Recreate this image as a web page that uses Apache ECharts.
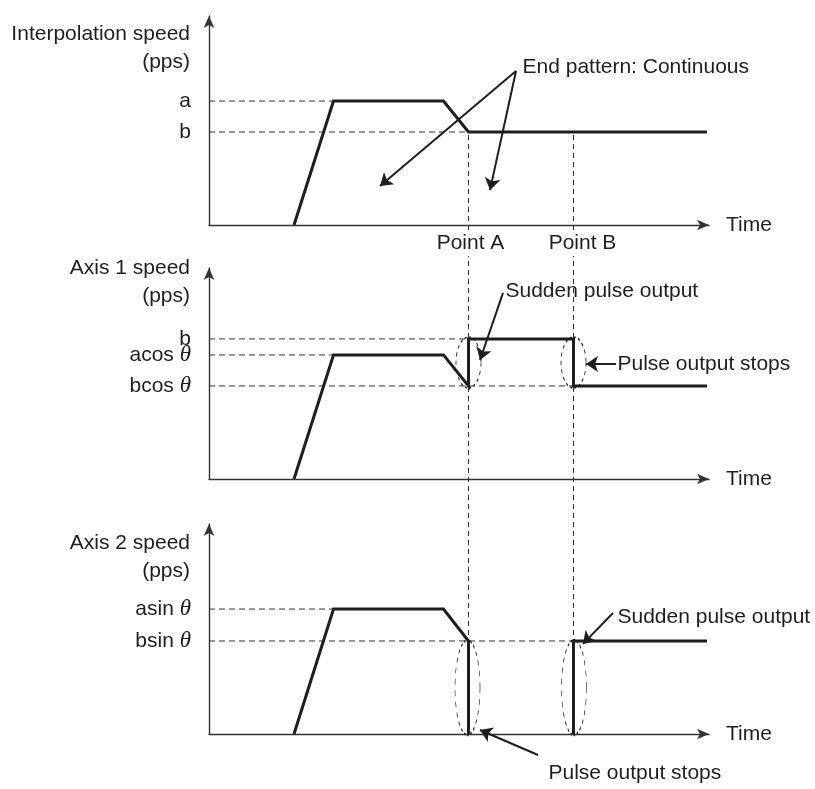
<!DOCTYPE html>
<html>
<head>
<meta charset="utf-8">
<script src="https://cdn.jsdelivr.net/npm/echarts@6/dist/echarts.min.js"></script>
<style>html,body{margin:0;padding:0;background:#fff;}#c{width:815px;height:789px;}</style>
</head>
<body>
<div id="c"></div>
<script>
// ---------- data (time axis 0..100, speed axis 0..100, schematic units) ----------
const interpTime  = [17, 24.9, 46.9, 51.9, 99.6];
const interpSpeed = [0, 59.3, 59.3, 44.5, 44.5];

const axis1Time  = [17, 24.9, 46.9, 51.9, 51.9, 72.9, 72.9, 99.6];
const axis1Speed = [0, 58.8, 58.8, 44.1, 66.4, 66.4, 44.1, 44.1];

const axis2Time  = [17, 24.9, 46.9, 51.9, 51.9, null, 72.9, 72.9, 99.6];
const axis2Speed = [0, 59.5, 59.5, 44.3, 0, null, 0, 44.3, 44.3];

const interpLevelNames = ['a', 'b'];
const interpLevels     = [59.3, 44.5];
const interpGuideEnds  = [24.9, 51.9];

const axis1LevelNames = ['b', 'acos θ', 'bcos θ'];
const axis1Levels     = [66.4, 58.8, 44.1];
const axis1GuideEnds  = [51.9, 24.9, 72.9];

const axis2LevelNames = ['asin θ', 'bsin θ'];
const axis2Levels     = [59.5, 44.3];
const axis2GuideEnds  = [24.9, 72.9];

const pointNames = ['Point A', 'Point B'];
const pointTimes = [51.9, 72.9];

const panelTitles = ['Interpolation speed\n(pps)', 'Axis 1 speed\n(pps)', 'Axis 2 speed\n(pps)'];

// annotations
const anno1Texts = ['End pattern: Continuous'];
const anno1At    = [[62.6, 75.6]];
const anno1Arrows = [[[61.4, 73.7], [34.2, 18.7]], [[61.4, 73.7], [56.2, 16.7]]];

const anno2Texts = ['Sudden pulse output', 'Pulse output stops'];
const anno2At    = [[59.2, 89.1], [81.6, 54.5]];
const anno2Arrows = [[[58.8, 88.2], [54.2, 56.4]], [[81.4, 54.5], [75.4, 54.5]]];
const anno2Ovals  = [[51.9, 55.2], [72.9, 55.2]];

const anno3Texts = ['Sudden pulse output', 'Pulse output stops'];
const anno3At    = [[81.6, 55.7], [67.8, -18.6]];
const anno3Arrows = [[[80.8, 57.6], [74.8, 42.9]], [[65.8, -10], [54.2, 1.9]]];
const anno3Ovals  = [[51.7, 22.1], [73.0, 22.1]];

// ---------- helpers ----------
const FONT = "'Liberation Sans', Arial, Helvetica, sans-serif";
const FS = 21;
const INK = '#1e1e1e';
const AX = '#333';

function pairs(xs, ys) {
  return xs.map((x, i) => (x === null || ys[i] === null) ? ['-', '-'] : [x, ys[i]]);
}
function levelFormatter(names, values) {
  return function (v) {
    let i = values.findIndex(x => Math.abs(x - v) < 1e-6);
    const s = i < 0 ? '' : names[i];
    const k = s.indexOf('θ');
    return k < 0 ? '{n|' + s + '}' : '{n|' + s.slice(0, k) + '}{t|θ}';
  };
}
const levelRich = {
  n: { fontSize: FS, fontFamily: FONT, color: INK, lineHeight: 14 },
  t: { fontSize: 23, fontFamily: "'Liberation Serif', 'DejaVu Serif', serif", fontStyle: 'italic', color: INK, lineHeight: 14 }
};
const evens = a => a.filter((_, i) => i % 2 === 0);
const odds  = a => a.filter((_, i) => i % 2 === 1);

function xAx(i, extra) {
  return Object.assign({
    type: 'value', gridIndex: i, min: 0, max: 100,
    axisLine: { show: true, onZero: false, symbol: ['none', 'arrow'], symbolSize: [8, 12],
                lineStyle: { color: AX, width: 1.4 } },
    axisTick: { show: false }, axisLabel: { show: false }, splitLine: { show: false },
    name: 'Time', nameLocation: 'end', nameGap: 17,
    nameTextStyle: { fontSize: FS, color: INK, fontFamily: FONT }
  }, extra || {});
}
function yAx(i, title, gap, names, values) {
  return {
    type: 'value', gridIndex: i, min: 0, max: 100,
    axisLine: { show: true, onZero: false, symbol: ['none', 'arrow'], symbolSize: [8, 12],
                lineStyle: { color: AX, width: 1.4 } },
    axisTick: { show: false }, splitLine: { show: false },
    axisLabel: { show: true, customValues: values, formatter: levelFormatter(names, values),
                 margin: 18, hideOverlap: false, showMinLabel: true, showMaxLabel: true, rich: levelRich },
    name: title, nameLocation: 'end', nameGap: gap,
    nameTextStyle: { fontSize: FS, color: INK, fontFamily: FONT, align: 'right',
                     verticalAlign: 'top', lineHeight: 28, padding: [0, 19, 0, 0] }
  };
}
// companion axis carrying the alternate level labels (so adjacent labels never collide)
function yAxLabels(i, names, values) {
  return {
    type: 'value', gridIndex: i, min: 0, max: 100, position: 'left', offset: 0,
    axisLine: { show: false }, axisTick: { show: false }, splitLine: { show: false },
    axisLabel: { show: true, customValues: values, formatter: levelFormatter(names, values),
                 margin: 18, hideOverlap: false, showMinLabel: true, showMaxLabel: true, rich: levelRich }
  };
}
function curve(i, xs, ys) {
  return { type: 'line', xAxisIndex: i, yAxisIndex: i, data: pairs(xs, ys), symbol: 'none',
           z: 5, connectNulls: false, lineStyle: { color: INK, width: 3, join: 'miter' } };
}
function guides(i, levels, ends) {
  const out = [];
  levels.forEach((lv, k) => {
    out.push({ type: 'line', xAxisIndex: i, yAxisIndex: i, data: [[0, lv], [ends[k], lv]],
               symbol: 'none', z: 2,
               lineStyle: { color: AX, width: 1, type: [6, 4] } });
  });
  return out;
}
function texts(i, names, at) {
  return { type: 'scatter', xAxisIndex: i, yAxisIndex: i, clip: false, z: 6,
           symbolSize: 1, itemStyle: { color: 'rgba(0,0,0,0)', opacity: 1 },
           data: names.map((n, k) => ({ name: n, value: at[k] })),
           label: { show: true, position: 'right', distance: 0, formatter: '{b}', opacity: 1,
                    fontSize: FS, color: INK, fontFamily: FONT } };
}
function arrows(i, list) {
  return { type: 'lines', coordinateSystem: 'cartesian2d', xAxisIndex: i, yAxisIndex: i,
           clip: false, z: 6, symbol: ['none', 'arrow'], symbolSize: [8, 12],
           lineStyle: { color: INK, width: 2, opacity: 1 },
           data: list.map(c => ({ coords: c })) };
}
function ovals(i, centers, size) {
  return { type: 'scatter', xAxisIndex: i, yAxisIndex: i, clip: false, z: 3,
           symbol: 'circle', symbolSize: size,
           itemStyle: { color: 'rgba(0,0,0,0)', opacity: 1, borderColor: '#222', borderWidth: 1.2, borderType: [3, 3] },
           data: centers };
}

const series = [].concat(
  // vertical guides for Point A / Point B across all panels (overlay grid 3)
  pointTimes.map(t => ({ type: 'line', xAxisIndex: 3, yAxisIndex: 3, data: [[t, 0], [t, 1]],
                         symbol: 'none', z: 1, lineStyle: { color: AX, width: 1, type: [5, 4] } })),
  guides(0, interpLevels, interpGuideEnds),
  guides(1, axis1Levels, axis1GuideEnds),
  guides(2, axis2Levels, axis2GuideEnds),
  [curve(0, interpTime, interpSpeed), curve(1, axis1Time, axis1Speed), curve(2, axis2Time, axis2Speed)],
  [ovals(1, anno2Ovals, [25, 51]), ovals(2, anno3Ovals, [25, 95])],
  [arrows(0, anno1Arrows), arrows(1, anno2Arrows), arrows(2, anno3Arrows)],
  [texts(0, anno1Texts, anno1At), texts(1, anno2Texts, anno2At), texts(2, anno3Texts, anno3At)]
);

const option = {
  animation: false,
  backgroundColor: '#fff',
  textStyle: { fontFamily: FONT },
  grid: [
    { left: 209, width: 500, top: 16, height: 209 },
    { left: 209, width: 500, top: 268, height: 211 },
    { left: 209, width: 500, top: 524, height: 210 },
    { left: 209, width: 500, top: 132, height: 602 }
  ],
  xAxis: [
    xAx(0, {
      z: 10,
      axisLabel: {
        show: true, customValues: pointTimes, margin: 6, showMinLabel: true, showMaxLabel: true,
        formatter: v => (Math.abs(v - pointTimes[0]) < 1e-6 ? '{a|' + pointNames[0] + '}' : '{b|' + pointNames[1] + '}'),
        rich: {
          a: { fontSize: FS, fontFamily: FONT, color: INK, backgroundColor: '#fff', padding: [2, 0, 2, 4] },
          b: { fontSize: FS, fontFamily: FONT, color: INK, backgroundColor: '#fff', padding: [2, 0, 2, 18] }
        }
      }
    }),
    xAx(1),
    xAx(2),
    { type: 'value', gridIndex: 3, min: 0, max: 100, show: false }
  ],
  yAxis: [
    yAx(0, panelTitles[0], -4, evens(interpLevelNames), evens(interpLevels)),
    yAx(1, panelTitles[1], 14, evens(axis1LevelNames), evens(axis1Levels)),
    yAx(2, panelTitles[2], -5, evens(axis2LevelNames), evens(axis2Levels)),
    { type: 'value', gridIndex: 3, min: 0, max: 1, show: false },
    yAxLabels(0, odds(interpLevelNames), odds(interpLevels)),
    yAxLabels(1, odds(axis1LevelNames), odds(axis1Levels)),
    yAxLabels(2, odds(axis2LevelNames), odds(axis2Levels))
  ],
  series: series
};

const chart = echarts.init(document.getElementById('c'), null, { renderer: 'canvas' });
chart.setOption(option);
</script>
</body>
</html>
